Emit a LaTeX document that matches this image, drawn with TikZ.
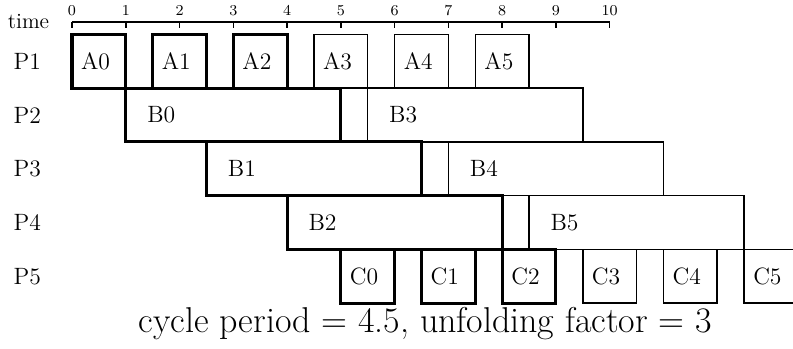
\documentclass[tikz,border=0pt]{standalone}
\usepackage{tikz}
\usetikzlibrary{positioning}

\tikzstyle{slot} = [
  draw, line width=0.8pt, anchor=north west, outer sep=0pt,
  minimum height=1cm, inner ysep=0pt, align=left,
  font=\fontsize{12.5}{14}\selectfont
]
\tikzstyle{shortslot} = [slot, inner xsep=0.17cm, text width=0.66cm]
\tikzstyle{longslot} = [slot, inner xsep=0.4cm, text width=3.2cm]
\tikzstyle{critical} = [line width=1.6pt]

\begin{document}
\begin{tikzpicture}

  \useasboundingbox (-1.339, 0.409) rectangle (13.409, -6.081);

  % time axis
  \draw[line width=0.8pt] (0, 0) -- (10, 0);
  \foreach \t in {0, ..., 10} {
    \draw[line width=0.8pt] (\t, 0) -- (\t, -0.11);
    \node[font=\footnotesize] (tick\t) at (\t, 0.22) {\t};
  }
  \node[anchor=base east, font=\fontsize{11.5}{13}\selectfont] (time) at (-0.3, -0.117) {time};

  % processors
  \foreach \i in {1, ..., 5}
    \node[font=\fontsize{12.5}{14}\selectfont] (p\i) at (-0.83, {0.27-\i}) {P\i};

  % later iterations
  \node[shortslot] (a3) at (4.5, -0.23) {A3};
  \node[shortslot] (a4) at (6, -0.23) {A4};
  \node[shortslot] (a5) at (7.5, -0.23) {A5};
  \node[longslot] (b3) at (5.5, -1.23) {B3};
  \node[longslot] (b4) at (7, -2.23) {B4};
  \node[longslot] (b5) at (8.5, -3.23) {B5};
  \node[shortslot] (c3) at (9.5, -4.23) {C3};
  \node[shortslot] (c4) at (11, -4.23) {C4};
  \node[shortslot] (c5) at (12.5, -4.23) {C5};

  % one cycle
  \node[shortslot, critical] (a0) at (0, -0.23) {A0};
  \node[shortslot, critical] (a1) at (1.5, -0.23) {A1};
  \node[shortslot, critical] (a2) at (3, -0.23) {A2};
  \node[longslot, critical] (b0) at (1, -1.23) {B0};
  \node[longslot, critical] (b1) at (2.5, -2.23) {B1};
  \node[longslot, critical] (b2) at (4, -3.23) {B2};
  \node[shortslot, critical] (c0) at (5, -4.23) {C0};
  \node[shortslot, critical] (c1) at (6.5, -4.23) {C1};
  \node[shortslot, critical] (c2) at (8, -4.23) {C2};

  \node[anchor=base, font=\fontsize{19}{22}\selectfont] (caption) at (6.57, -5.78)
    {cycle period = 4.5, unfolding factor = 3};

\end{tikzpicture}
\end{document}
